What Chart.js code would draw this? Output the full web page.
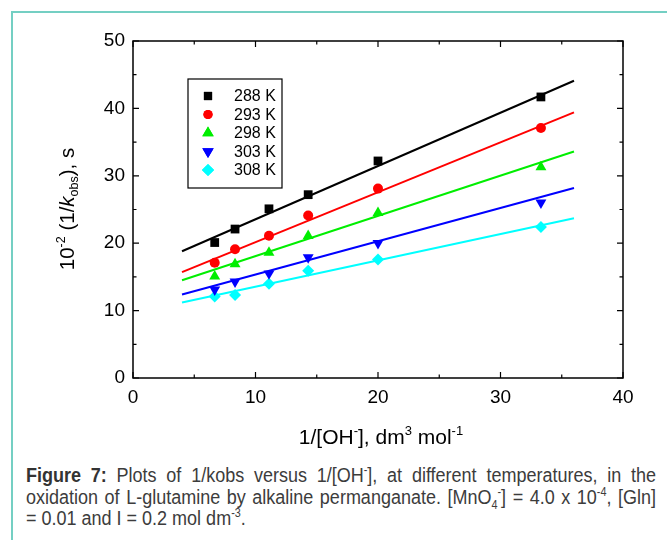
<!DOCTYPE html>
<html>
<head>
<meta charset="utf-8">
<script src="https://cdn.jsdelivr.net/npm/chart.js@4/dist/chart.umd.min.js"></script>
<style>
  body { margin: 0; background: #fff; width: 667px; height: 540px; overflow: hidden; position: relative; }
  #frame { position: absolute; left: 11px; top: 11px; width: 680px; height: 560px;
           border-left: 2px solid #74cfc3; border-top: 2px solid #74cfc3; }
  #wrap { position: absolute; left: 0; top: 0; width: 667px; height: 450px; }
  #caption { position: absolute; left: 26px; top: 465px; width: 700px;
             transform: scaleX(0.9); transform-origin: 0 0;
             font-family: 'Liberation Sans', Arial, sans-serif;
             font-size: 20px; line-height: 21.7px; color: #3c3c3c; }
  #caption div { white-space: nowrap; text-align: justify; text-align-last: justify; }
  #caption div.last { text-align: left; text-align-last: left; }
  #caption b { color: #333; }
  #caption sup, #caption sub { font-size: 12px; line-height: 0; }
</style>
</head>
<body>
<div id="frame"></div>
<div id="wrap"><canvas id="myChart" width="667" height="450"></canvas></div>
<div id="caption">
  <div><b>Figure 7:</b> Plots of 1/kobs versus 1/[OH<sup>-</sup>], at different temperatures, in the</div>
  <div>oxidation of L-glutamine by alkaline permanganate. [MnO<sub>4</sub><sup>-</sup>] = 4.0 x 10<sup>-4</sup>, [Gln]</div>
  <div class="last">= 0.01 and I = 0.2 mol dm<sup>-3</sup>.</div>
</div>
<script>
// 1/[OH-] values, dm3 mol-1
let xVals = [6.67, 8.33, 11.1, 14.3, 20, 33.3]
let temps = ["288 K", "293 K", "298 K", "303 K", "308 K"]
let k288 = [20.1, 22.1, 25.1, 27.2, 32.2, 41.7]
let k293 = [17.1, 19.1, 21.1, 24.1, 28.1, 37.1]
let k298 = [15.1, 16.9, 18.6, 21.1, 24.5, 31.3]
let k303 = [13.1, 14.3, 15.5, 17.9, 20.0, 26.0]
let k308 = [12.1, 12.3, 14.0, 15.9, 17.6, 22.4]
// fitted lines, read at both ends
let fitX = [4, 36]
let fit288 = [18.8, 44.1]
let fit293 = [15.7, 39.4]
let fit298 = [14.5, 33.6]
let fit303 = [12.4, 28.2]
let fit308 = [11.2, 23.7]
let xTicks = [0, 10, 20, 30, 40]
let yTicks = [0, 10, 20, 30, 40, 50]

let colors = ["#000000", "#ff0000", "#00ee00", "#0000ff", "#00ffff"]
let styles = ["rect", "circle", "triangle", "triangle", "rectRot"]
let rots = [0, 0, 0, 180, 0]
let radii = [6.2, 5, 6.3, 6.3, 6]
let legRadii = [5.8, 4.6, 6.6, 6.6, 6.1]
let series = [k288, k293, k298, k303, k308]
let fits = [fit288, fit293, fit298, fit303, fit308]
let font = "'Liberation Sans', Arial, sans-serif"

let datasets = []
series.forEach((s, i) => {
  datasets.push({
    label: temps[i],
    data: xVals.map((x, j) => ({ x: x, y: s[j] })),
    showLine: false,
    pointStyle: styles[i],
    rotation: rots[i],
    pointRadius: radii[i],
    backgroundColor: colors[i],
    borderColor: colors[i],
    borderWidth: 0,
    order: 0
  })
})
fits.forEach((f, i) => {
  datasets.push({
    label: "fit " + temps[i],
    data: fitX.map((x, j) => ({ x: x, y: f[j] })),
    showLine: true,
    pointRadius: 0,
    borderColor: colors[i],
    borderWidth: 2,
    order: 1
  })
})

function drawRich(ctx, parts, x, y) {
  // parts: [text, font, dy]
  let total = 0
  parts.forEach(p => { ctx.font = p[1]; total += ctx.measureText(p[0]).width })
  let cx = x - total / 2
  parts.forEach(p => {
    ctx.font = p[1]
    ctx.fillText(p[0], cx, y + p[2])
    cx += ctx.measureText(p[0]).width
  })
}

let decor = {
  id: "decor",
  afterDraw(chart) {
    let ctx = chart.ctx
    let a = chart.chartArea
    let xs = chart.scales.x, ys = chart.scales.y
    ctx.save()
    ctx.strokeStyle = "#000"
    ctx.lineWidth = 1.5
    ctx.strokeRect(a.left, a.top, a.right - a.left, a.bottom - a.top)
    // inward ticks on all four sides
    ctx.lineWidth = 1.2
    ctx.beginPath()
    for (let v = 0; v <= 40; v += 5) {
      let px = xs.getPixelForValue(v)
      let len = v % 10 === 0 ? 6 : 3.5
      ctx.moveTo(px, a.bottom); ctx.lineTo(px, a.bottom - len)
      ctx.moveTo(px, a.top); ctx.lineTo(px, a.top + len)
    }
    for (let v = 0; v <= 50; v += 5) {
      let py = ys.getPixelForValue(v)
      let len = v % 10 === 0 ? 6 : 3.5
      ctx.moveTo(a.left, py); ctx.lineTo(a.left + len, py)
      ctx.moveTo(a.right, py); ctx.lineTo(a.right - len, py)
    }
    ctx.stroke()

    // legend box
    ctx.lineWidth = 1.2
    ctx.strokeStyle = "#000"
    ctx.strokeRect(188, 79, 94, 109)
    ctx.textBaseline = "middle"
    ctx.textAlign = "left"
    temps.forEach((t, i) => {
      let ry = 96 + i * 18.5
      ctx.fillStyle = colors[i]
      ctx.strokeStyle = colors[i]
      Chart.helpers.drawPoint(ctx, { pointStyle: styles[i], rotation: rots[i], radius: legRadii[i], borderWidth: 0 }, 208, ry)
      ctx.fill()
      ctx.fillStyle = "#000"
      ctx.font = "16px " + font
      ctx.fillText(t, 234, ry + 1)
    })

    // axis titles
    ctx.fillStyle = "#000"
    ctx.textBaseline = "alphabetic"
    ctx.textAlign = "left"
    let big = "21px " + font
    let small = "13px " + font
    drawRich(ctx, [["1/[OH", big, 0], ["-", small, -9], ["], dm", big, 0], ["3", small, -9], [" mol", big, 0], ["-1", small, -9]], 381, 444)
    let bigY = "20.5px " + font
    let smallY = "12.5px " + font
    ctx.translate(74, 209)
    ctx.rotate(-Math.PI / 2)
    drawRich(ctx, [["10", bigY, 0], ["-2", smallY, -9], [" (1/", bigY, 0], ["k", "italic " + bigY, 0], ["obs", smallY, 4], ["), s", bigY, 0]], 0, 0)
    ctx.restore()
  }
}

let config = {
  type: "scatter",
  data: { datasets: datasets },
  options: {
    responsive: false,
    animation: false,
    layout: { padding: { left: 0, right: 44, top: 41, bottom: 0 } },
    plugins: { legend: { display: false }, tooltip: { enabled: false } },
    scales: {
      x: {
        type: "linear", min: 0, max: 40,
        afterFit: (s) => { s.height = 72 },
        afterBuildTicks: (s) => { s.ticks = xTicks.map(v => ({ value: v })) },
        grid: { display: false, drawTicks: false },
        border: { display: false },
        ticks: { color: "#000", padding: 8, maxRotation: 0, font: { size: 19, family: font } }
      },
      y: {
        type: "linear", min: 0, max: 50,
        afterFit: (s) => { s.width = 133 },
        afterBuildTicks: (s) => { s.ticks = yTicks.map(v => ({ value: v })) },
        grid: { display: false, drawTicks: false },
        border: { display: false },
        ticks: { color: "#000", padding: 8, font: { size: 19, family: font } }
      }
    }
  },
  plugins: [decor]
}

let myChart = new Chart(document.getElementById("myChart"), config)
</script>
</body>
</html>
